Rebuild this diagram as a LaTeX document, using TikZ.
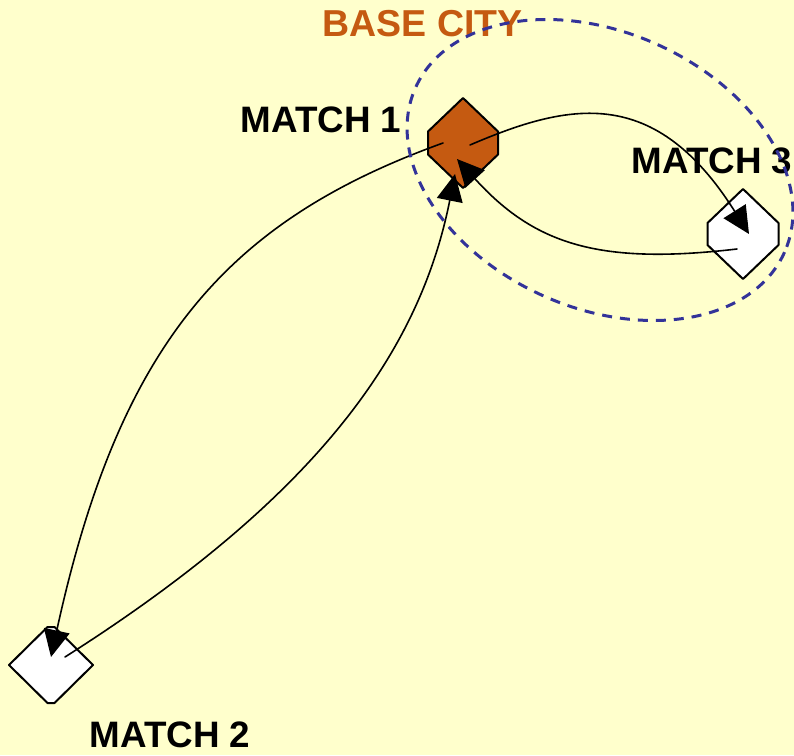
\documentclass[tikz,border=0pt]{standalone}
\usepackage{fontspec}
\setmainfont{Liberation Sans}
\usetikzlibrary{arrows.meta,calc}
\definecolor{basecol}{RGB}{197,90,17}
\definecolor{ringcol}{RGB}{51,51,153}
\definecolor{paper}{RGB}{255,255,204}
\begin{document}
\begin{tikzpicture}[x=1pt, y=-1pt, line join=round, line cap=round,
	>={Triangle[length=27pt,width=26pt]},
	site/.style={draw=black, line width=2pt, fill=white},
	link/.style={->, line width=1.6pt},
	cityname/.style={anchor=base, inner sep=0pt, font=\fontsize{36.8}{40}\selectfont\bfseries},
	ring/.style={draw=ringcol, line width=3pt, line cap=butt, dash pattern=on 10pt off 8pt}]
	\fill[paper] (0,0) rectangle (794,755);
	\useasboundingbox (0,0) rectangle (794,755);
	% cities
	\coordinate (m1) at (463,143);
	\coordinate (m2) at (51,665);
	\coordinate (m3) at (743,234);
	% labels
	\node[cityname] (lab1) at (321,132) {MATCH 1};
	\node[cityname] (lab2) at (170,747) {MATCH 2};
	\node[cityname] (lab3) at (712,173) {MATCH 3};
	\node[cityname, text=basecol, font=\fontsize{37.5}{40}\selectfont\bfseries] (base) at (422.5,36.5) {BASE CITY};
	% shapes
	\draw[site, fill=basecol, shift={(m1)}] (0,-45) -- (35,-11.5) -- (35,11.5) -- (0,45) -- (-35,11.5) -- (-35,-11.5) -- cycle;
	\draw[site, shift={(m3)}] (0,-45) -- (35.5,-11) -- (35.5,11) -- (0,45) -- (-35.5,11) -- (-35.5,-11) -- cycle;
	\draw[site, shift={(m2)}] (-3.5,-38) -- (3.5,-38) -- (42,0) -- (3.5,38) -- (-3.5,38) -- (-42,0) -- cycle;
	% tours
	\draw[link] ($(m1)+(7,2)$) .. controls (570,102) and (655,85) .. ($(m3)+(6,0)$);
	\draw[link] ($(m3)+(-6,15)$) .. controls (600,265) and (535,245) .. ($(m1)+(-6,16)$);
	\draw[link] ($(m1)+(-20,0)$) .. controls (230,220) and (120,340) .. ($(m2)+(0,-8)$);
	\draw[link] ($(m2)+(14,-8)$) .. controls (320,495) and (420,350) .. ($(m1)+(-8,31)$);
	% base region
	\draw[ring, rotate around={-24:(600,170)}] (600,170) ellipse [x radius=202, y radius=138];
\end{tikzpicture}
\end{document}
